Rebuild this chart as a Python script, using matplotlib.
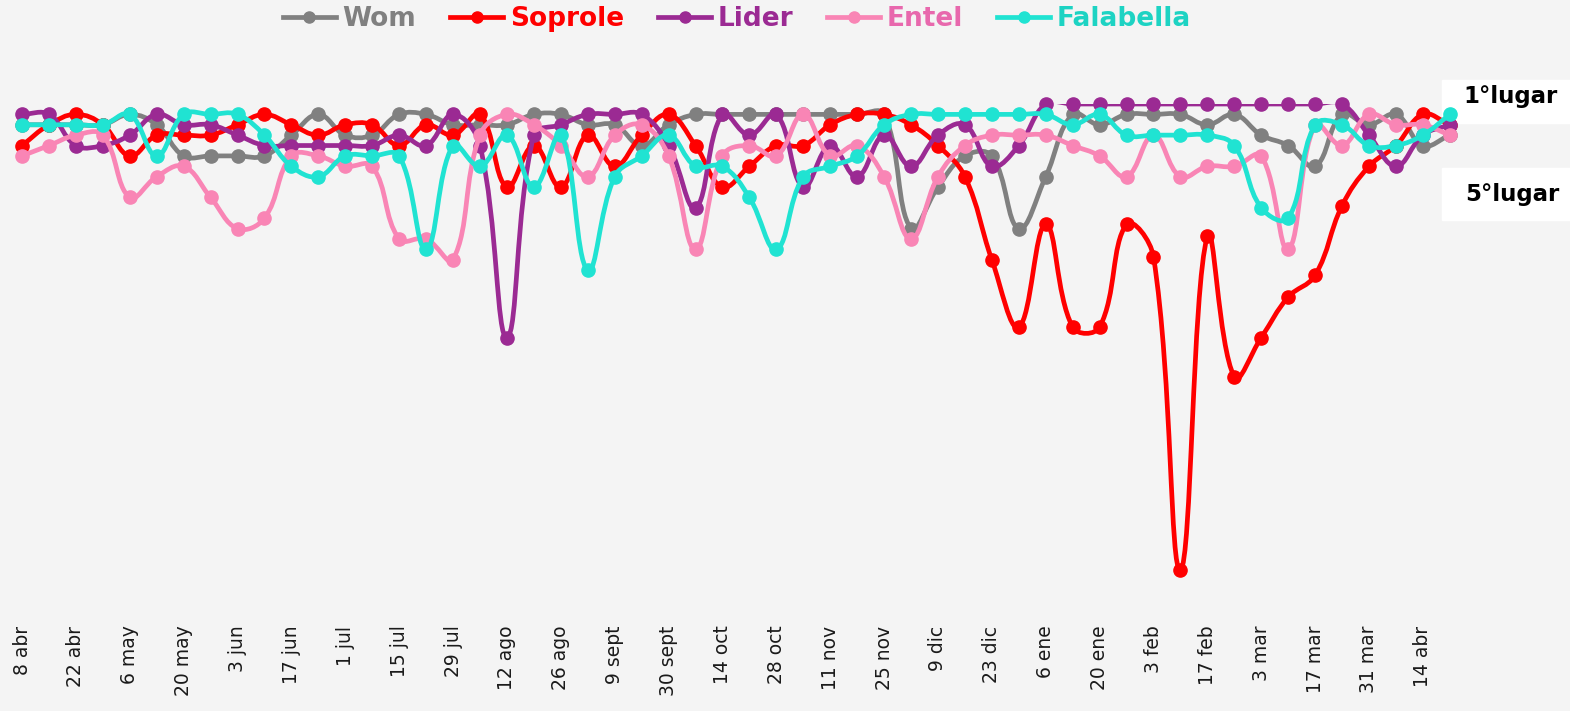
import numpy as np
import matplotlib.pyplot as plt
from matplotlib.lines import Line2D
from matplotlib.path import Path
from matplotlib.patches import PathPatch, Rectangle

# ---------------------------------------------------------------
# Weekly ranking positions (1 = first place), 54 weeks.
# ---------------------------------------------------------------
fechas = ["8 abr", "22 abr", "6 may", "20 may", "3 jun", "17 jun", "1 jul",
          "15 jul", "29 jul", "12 ago", "26 ago", "9 sept", "30 sept", "14 oct",
          "28 oct", "11 nov", "25 nov", "9 dic", "23 dic", "6 ene", "20 ene",
          "3 feb", "17 feb", "3 mar", "17 mar", "31 mar", "14 abr"]

wom = [3, 3, 3, 3, 2, 3, 6, 6, 6, 6, 4, 2, 4, 4, 2, 2, 3, 3, 3, 2,
       2, 3, 3, 5, 3, 2, 2, 2, 2, 2, 2, 2, 2, 13, 9, 6, 6, 13, 8, 2,
       3, 2, 2, 2, 3, 2, 4, 5, 7, 2, 3, 2, 5, 4]
soprole = [5, 3, 2, 3, 6, 4, 4, 4, 3, 2, 3, 4, 3, 3, 5, 3, 4, 2, 9, 5,
           9, 4, 7, 4, 2, 5, 9, 7, 5, 5, 3, 2, 2, 3, 5, 8, 16, 22.5, 12.6, 22.5,
           22.5, 12.6, 15.7, 45.9, 13.7, 27.3, 23.5, 19.6, 17.5, 10.8, 7, 5, 2, 3]
lider = [2, 2, 5, 5, 4, 2, 3, 3, 4, 5, 5, 5, 5, 5, 4, 5, 2, 5, 23.5, 4,
         3, 2, 2, 2, 5, 11, 2, 4, 2, 9, 5, 8, 4, 7, 4, 3, 7, 5, 1, 1,
         1, 1, 1, 1, 1, 1, 1, 1, 1, 1, 4, 7, 4, 3]
entel = [6, 5, 4, 4, 10, 8, 7, 10, 13, 12, 6, 6, 7, 7, 14, 14, 16, 4, 2, 3,
         5, 8, 4, 3, 6, 15, 6, 5, 6, 2, 6, 5, 8, 14, 8, 5, 4, 4, 4, 5,
         6, 8, 4, 8, 7, 7, 6, 15, 3, 5, 2, 3, 3, 4]
falabella = [3, 3, 3, 3, 2, 6, 2, 2, 2, 4, 7, 8, 6, 6, 6, 15, 5, 7, 4, 9,
             4, 17, 8, 6, 4, 7, 7, 10, 15, 8, 7, 6, 3, 2, 2, 2, 2, 2, 2, 3,
             2, 4, 4, 4, 4, 5, 11, 12, 3, 3, 5, 5, 4, 2]

series = [("Wom", wom, "#808080", "#808080"),
          ("Soprole", soprole, "#ff0000", "#ff0000"),
          ("Lider", lider, "#9b2a93", "#9b2a93"),
          ("Entel", entel, "#f985b5", "#e868ad"),
          ("Falabella", falabella, "#20e3d2", "#1dd3c3")]

W, H = 1570, 711
fig = plt.figure(figsize=(W / 100, H / 100), dpi=100)
fig.patch.set_facecolor("#f4f4f4")

# white boxes behind the side labels
fig.add_artist(Rectangle((1442 / W, 1 - 123 / H), 128 / W, 43 / H,
                         transform=fig.transFigure, color="white", zorder=0))
fig.add_artist(Rectangle((1442 / W, 1 - 220 / H), 128 / W, 52 / H,
                         transform=fig.transFigure, color="white", zorder=0))

ax = fig.add_axes([0, 91 / H, 1, 516 / H])
ax.patch.set_alpha(0)
n = len(wom)
xs = np.arange(n)
ax.set_xlim(-22 / 26.94, (W - 22) / 26.94)
ax.set_ylim(1 + 516 / 10.38, 1)


def spline_path(x, y, sx, sy, tension=0.4):
    # Chart.js style bezier control points
    x = np.asarray(x, float)
    y = np.asarray(y, float)
    m = len(x)
    cps = []
    for k in range(m):
        pk = max(k - 1, 0)
        nk = min(k + 1, m - 1)
        d01 = np.hypot((x[k] - x[pk]) * sx, (y[k] - y[pk]) * sy)
        d12 = np.hypot((x[nk] - x[k]) * sx, (y[nk] - y[k]) * sy)
        tot = d01 + d12
        s01 = d01 / tot if tot else 0
        s12 = d12 / tot if tot else 0
        fa, fb = tension * s01, tension * s12
        dx, dy = x[nk] - x[pk], y[nk] - y[pk]
        cps.append(((x[k] - fa * dx, y[k] - fa * dy), (x[k] + fb * dx, y[k] + fb * dy)))
    verts = [(x[0], y[0])]
    codes = [Path.MOVETO]
    for k in range(1, m):
        verts += [cps[k - 1][1], cps[k][0], (x[k], y[k])]
        codes += [Path.CURVE4] * 3
    return Path(verts, codes)


for z, (name, vals, col, tcol) in enumerate(series):
    path = spline_path(xs, vals, 26.94, 10.38)
    ax.add_patch(PathPatch(path, facecolor="none", edgecolor=col, lw=3.4,
                           zorder=2 + z * 2, joinstyle="round", capstyle="round"))
    ax.plot(xs, vals, "o", color=col, ms=9.5, clip_on=False, zorder=3 + z * 2)

ax.set_xticks(np.arange(0, n, 2))
ax.set_xticklabels(fechas, rotation=90, fontsize=13.5, color="#1a1a1a", va="top")
ax.tick_params(axis="x", length=0, pad=4)
ax.set_yticks([])
for s in ax.spines.values():
    s.set_visible(False)

handles = [Line2D([], [], color=c, lw=3.4, marker="o", ms=8) for _, _, c, _ in series]
fig.legend(handles, [s[0] for s in series], loc="center",
           bbox_to_anchor=(737 / W, 1 - 19 / H), ncol=5, frameon=False,
           borderaxespad=0, borderpad=0,
           prop={"weight": "bold", "size": 19}, handlelength=2.0,
           handletextpad=0.25, columnspacing=1.3,
           labelcolor=[s[3] for s in series])

fig.text(1510 / W, 1 - 97 / H, "1°lugar", ha="center", va="center",
         fontsize=16.5, fontweight="bold", color="black")
fig.text(1512 / W, 1 - 195 / H, "5°lugar", ha="center", va="center",
         fontsize=16.5, fontweight="bold", color="black")

fig.savefig("out.png", dpi=100, facecolor=fig.get_facecolor())
